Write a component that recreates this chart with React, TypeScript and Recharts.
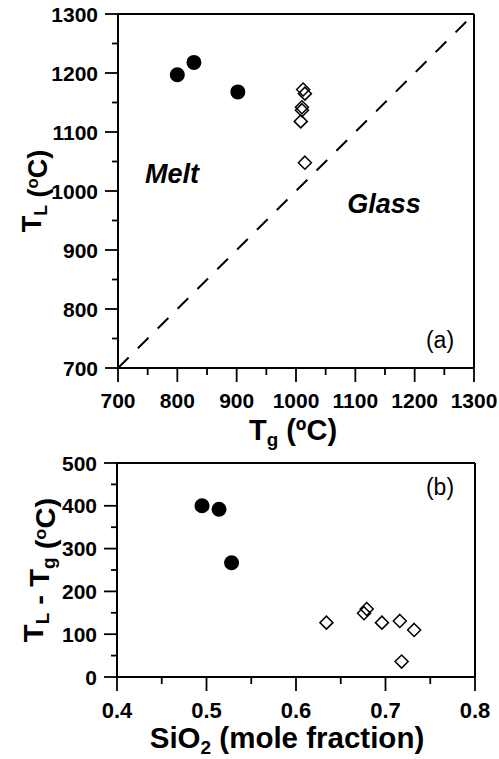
import React from 'react';
import { ScatterChart, Scatter, XAxis, YAxis, ReferenceLine, Label } from 'recharts';

// ---------- data ----------
// panel (a): Tg vs TL
const meltTg = [800, 828, 902];
const meltTl = [1197, 1218, 1168];
const glassTg = [1012, 1015, 1010, 1010, 1008, 1015];
const glassTl = [1172, 1165, 1142, 1137, 1118, 1048];

// panel (b): SiO2 vs TL - Tg
const meltSiO2 = [0.495, 0.514, 0.528];
const meltDiff = [400, 392, 267];
const glassSiO2 = [0.634, 0.679, 0.676, 0.696, 0.716, 0.732, 0.718];
const glassDiff = [127, 159, 149, 127, 131, 110, 36];

// ticks
const aMajor = [700, 800, 900, 1000, 1100, 1200, 1300];
const aMinor = [750, 850, 950, 1050, 1150, 1250];
const aInner = [800, 900, 1000, 1100, 1200];
const bXMajor = [0.4, 0.5, 0.6, 0.7, 0.8];
const bXMinor = [0.45, 0.55, 0.65, 0.75];
const bXInner = [0.5, 0.6, 0.7];
const bYMajor = [0, 100, 200, 300, 400, 500];
const bYMinor = [50, 150, 250, 350, 450];
const bYInner = [100, 200, 300, 400];

const FONT = '"Liberation Sans", Arial, Helvetica, sans-serif';
const sortNum = (a: number[]) => [...a].sort((p, q) => p - q);
const isIn = (arr: number[], v: number) => arr.some((a) => Math.abs(a - v) < 1e-6);

const meltA = meltTg.map((x, i) => ({ x, y: meltTl[i] }));
const glassA = glassTg.map((x, i) => ({ x, y: glassTl[i] }));
const meltB = meltSiO2.map((x, i) => ({ x, y: meltDiff[i] }));
const glassB = glassSiO2.map((x, i) => ({ x, y: glassDiff[i] }));

const TICK_W = 1.8;

function makeBottomTick(majors: number[], fmt: (v: number) => string, fs: number, dy: number) {
  return (props: any) => {
    const { x, y, payload } = props;
    const v = Number(payload.value);
    const major = isIn(majors, v);
    return (
      <g>
        <line x1={x} x2={x} y1={y} y2={y + (major ? 14 : 7)} stroke="#000" strokeWidth={TICK_W} />
        {major && (
          <text x={x} y={y + dy} textAnchor="middle" fontFamily={FONT} fontWeight="bold" fontSize={fs} fill="#000">
            {fmt(v)}
          </text>
        )}
      </g>
    );
  };
}

function makeLeftTick(majors: number[], fs: number) {
  return (props: any) => {
    const { x, y, payload } = props;
    const v = Number(payload.value);
    const major = isIn(majors, v);
    return (
      <g>
        <line x1={x - (major ? 13 : 6)} x2={x} y1={y} y2={y} stroke="#000" strokeWidth={TICK_W} />
        {major && (
          <text x={x - 20} y={y + 7.5} textAnchor="end" fontFamily={FONT} fontWeight="bold" fontSize={fs} fill="#000">
            {String(v)}
          </text>
        )}
      </g>
    );
  };
}

const TopInnerTick = (props: any) => {
  const { x, y } = props;
  return <line x1={x} x2={x} y1={y} y2={y + 13} stroke="#000" strokeWidth={TICK_W} />;
};
const RightInnerTick = (props: any) => {
  const { x, y } = props;
  return <line x1={x - 14} x2={x} y1={y} y2={y} stroke="#000" strokeWidth={TICK_W} />;
};

const Dot = (p: any) => <circle cx={p.cx} cy={p.cy} r={7.5} fill="#000" />;
const Diamond = (p: any) => {
  const r = 6.5;
  return (
    <path
      d={`M${p.cx},${p.cy - r}L${p.cx + r},${p.cy}L${p.cx},${p.cy + r}L${p.cx - r},${p.cy}Z`}
      fill="none"
      stroke="#000"
      strokeWidth={1.5}
    />
  );
};

const axisLine = { stroke: '#000', strokeWidth: 2 };

function XTitle(main: string, sub: string, tail: string, fs: number, dy: number) {
  return (props: any) => {
    const vb = props.viewBox || {};
    const cx = vb.x + vb.width / 2;
    const y = vb.y + dy;
    return (
      <text x={cx - 3} y={y} textAnchor="middle" fontFamily={FONT} fontWeight="bold" fontSize={fs} fill="#000">
        <tspan>{main}</tspan>
        <tspan fontSize={fs * 0.65} dy={6}>{sub}</tspan>
        <tspan dy={-6}>{tail}</tspan>
      </text>
    );
  };
}

function TempTitle(parts: { t: string; s: string }[], sep: string, fs: number, bx: number, scale: number) {
  return (props: any) => {
    const vb = props.viewBox || {};
    const cy = vb.y + vb.height / 2;
    const nodes: any[] = [];
    parts.forEach((p, i) => {
      if (i > 0) nodes.push(<tspan key={'sep' + i}>{sep}</tspan>);
      nodes.push(<tspan key={'t' + i}>{p.t}</tspan>);
      nodes.push(<tspan key={'s' + i} fontSize={fs * 0.65} dy={6}>{p.s}</tspan>);
      nodes.push(<tspan key={'r' + i} dy={-6}>{''}</tspan>);
    });
    return (
      <text
        transform={`translate(${bx},${cy}) rotate(-90) scale(${scale},1)`}
        x={0}
        y={0}
        textAnchor="middle"
        fontFamily={FONT}
        fontWeight="bold"
        fontSize={fs}
        fill="#000"
      >
        {nodes}
        <tspan>{' ('}</tspan>
        <tspan fontSize={fs * 0.62} dy={-9}>o</tspan>
        <tspan dy={9}>C)</tspan>
      </text>
    );
  };
}

export default function App() {
  const topH = 455;
  const botTop = 432;
  const botH = 759 - botTop;
  return (
    <div style={{ position: 'absolute', left: 0, top: 0, width: 499, height: 759, background: '#fff' }}>
      <div style={{ position: 'absolute', left: 0, top: 0 }}>
        <ScatterChart width={499} height={topH} margin={{ top: 13, left: 117, right: 24, bottom: topH - 368 - 1 }}>
          <XAxis
            xAxisId="b"
            type="number"
            dataKey="x"
            domain={[700, 1300]}
            ticks={sortNum([...aMajor, ...aMinor])}
            interval={0}
            height={1}
            tickSize={0}
            tickMargin={0}
            tickLine={false}
            axisLine={axisLine}
            tick={makeBottomTick(aMajor, (v) => String(v), 21, 40)}
          >
            <Label content={XTitle('T', 'g', ' (ºC)', 29, 72)} />
          </XAxis>
          <XAxis
            xAxisId="t"
            orientation="top"
            type="number"
            dataKey="x"
            domain={[700, 1300]}
            ticks={aInner}
            interval={0}
            height={1}
            tickSize={0}
            tickMargin={0}
            tickLine={false}
            axisLine={axisLine}
            tick={TopInnerTick}
          />
          <YAxis
            yAxisId="l"
            type="number"
            dataKey="y"
            domain={[700, 1300]}
            ticks={sortNum([...aMajor, ...aMinor])}
            interval={0}
            width={1}
            tickSize={0}
            tickMargin={0}
            tickLine={false}
            axisLine={axisLine}
            tick={makeLeftTick(aMajor, 21)}
          >
            <Label content={TempTitle([{ t: 'T', s: 'L' }], '', 27, 41, 1)} />
          </YAxis>
          <YAxis
            yAxisId="r"
            orientation="right"
            type="number"
            dataKey="y"
            domain={[700, 1300]}
            ticks={aInner}
            interval={0}
            width={1}
            tickSize={0}
            tickMargin={0}
            tickLine={false}
            axisLine={axisLine}
            tick={RightInnerTick}
          />
          <ReferenceLine
            xAxisId="b"
            yAxisId="l"
            segment={[{ x: 700, y: 700 }, { x: 1300, y: 1300 }]}
            stroke="#000"
            strokeWidth={2}
            strokeDasharray="15 13"
          />
          <Scatter xAxisId="b" yAxisId="l" data={meltA} shape={Dot} isAnimationActive={false} />
          <Scatter xAxisId="b" yAxisId="l" data={glassA} shape={Diamond} isAnimationActive={false} />
        </ScatterChart>
        <svg width={499} height={topH} style={{ position: 'absolute', left: 0, top: 0, pointerEvents: 'none' }}>
          <text x={172} y={183} textAnchor="middle" fontFamily={FONT} fontWeight="bold" fontStyle="italic" fontSize={27} fill="#000">
            Melt
          </text>
          <text x={384} y={213} textAnchor="middle" fontFamily={FONT} fontWeight="bold" fontStyle="italic" fontSize={27} fill="#000">
            Glass
          </text>
          <text x={440} y={348} textAnchor="middle" fontFamily={FONT} fontSize={23} fill="#000">
            (a)
          </text>
        </svg>
      </div>
      <div style={{ position: 'absolute', left: 0, top: botTop }}>
        <ScatterChart width={499} height={botH} margin={{ top: 463 - botTop - 1, left: 116, right: 23, bottom: 759 - 677 - 1 }}>
          <XAxis
            xAxisId="b"
            type="number"
            dataKey="x"
            domain={[0.4, 0.8]}
            ticks={sortNum([...bXMajor, ...bXMinor])}
            interval={0}
            height={1}
            tickSize={0}
            tickMargin={0}
            tickLine={false}
            axisLine={axisLine}
            tick={makeBottomTick(bXMajor, (v) => v.toFixed(1), 22, 41)}
          >
            <Label
              content={(props: any) => {
                const vb = props.viewBox || {};
                return (
                  <text x={vb.x + vb.width / 2 - 9} y={vb.y + 71} textAnchor="middle" fontFamily={FONT} fontWeight="bold" fontSize={29.5} fill="#000">
                    <tspan>SiO</tspan>
                    <tspan fontSize={19} dy={6}>2</tspan>
                    <tspan dy={-6}> (mole fraction)</tspan>
                  </text>
                );
              }}
            />
          </XAxis>
          <XAxis
            xAxisId="t"
            orientation="top"
            type="number"
            dataKey="x"
            domain={[0.4, 0.8]}
            ticks={bXInner}
            interval={0}
            height={1}
            tickSize={0}
            tickMargin={0}
            tickLine={false}
            axisLine={axisLine}
            tick={TopInnerTick}
          />
          <YAxis
            yAxisId="l"
            type="number"
            dataKey="y"
            domain={[0, 500]}
            ticks={sortNum([...bYMajor, ...bYMinor])}
            interval={0}
            width={1}
            tickSize={0}
            tickMargin={0}
            tickLine={false}
            axisLine={axisLine}
            tick={makeLeftTick(bYMajor, 21)}
          >
            <Label content={TempTitle([{ t: 'T', s: 'L' }, { t: 'T', s: 'g' }], ' - ', 27, 43, 1.08)} />
          </YAxis>
          <YAxis
            yAxisId="r"
            orientation="right"
            type="number"
            dataKey="y"
            domain={[0, 500]}
            ticks={bYInner}
            interval={0}
            width={1}
            tickSize={0}
            tickMargin={0}
            tickLine={false}
            axisLine={axisLine}
            tick={RightInnerTick}
          />
          <Scatter xAxisId="b" yAxisId="l" data={meltB} shape={Dot} isAnimationActive={false} />
          <Scatter xAxisId="b" yAxisId="l" data={glassB} shape={Diamond} isAnimationActive={false} />
        </ScatterChart>
        <svg width={499} height={botH} style={{ position: 'absolute', left: 0, top: 0, pointerEvents: 'none' }}>
          <text x={440} y={495 - botTop} textAnchor="middle" fontFamily={FONT} fontSize={23} fill="#000">
            (b)
          </text>
        </svg>
      </div>
    </div>
  );
}
